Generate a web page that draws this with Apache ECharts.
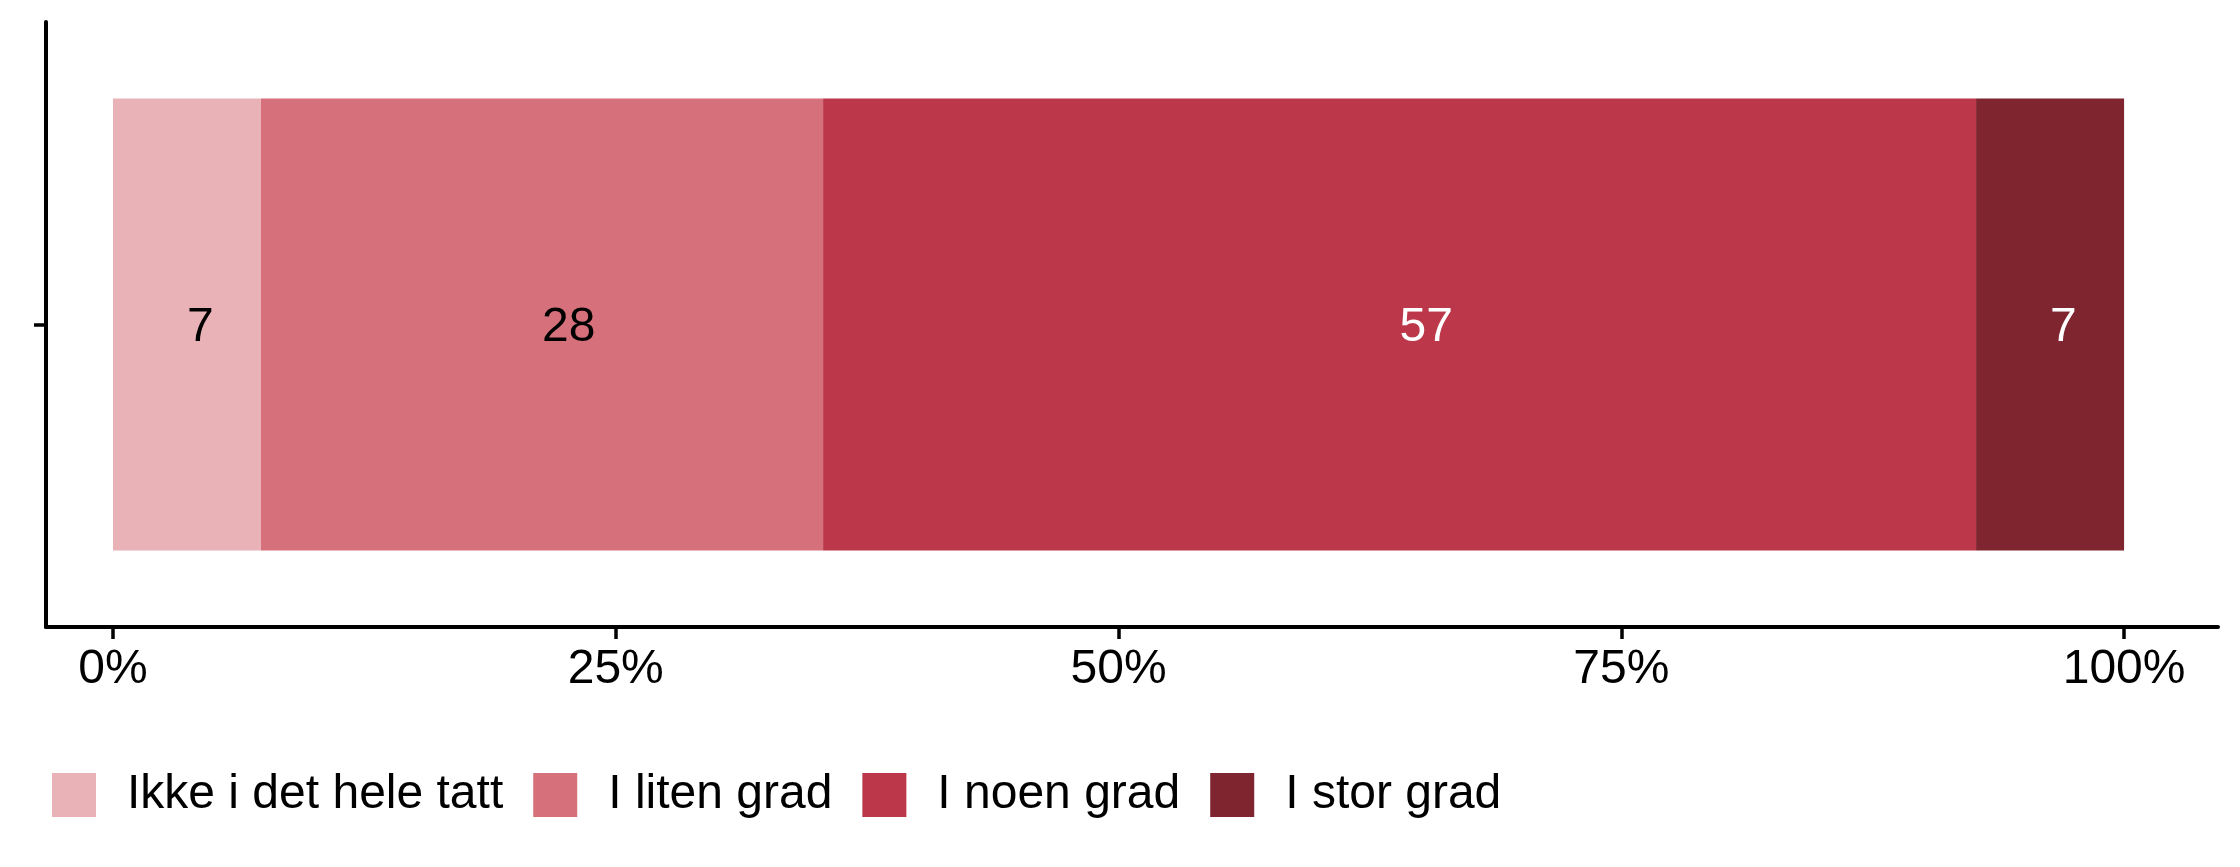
<!DOCTYPE html>
<html>
<head>
<meta charset="utf-8">
<script src="https://cdn.jsdelivr.net/npm/echarts@6/dist/echarts.min.js"></script>
<style>
html,body{margin:0;padding:0;background:#fff;}
#chart{width:2240px;height:867px;}
</style>
</head>
<body>
<div id="chart"></div>
<script>
const categories = [''];
const seriesNames = ['Ikke i det hele tatt', 'I liten grad', 'I noen grad', 'I stor grad'];
const seriesValues = [7.36, 27.95, 57.33, 7.36];
const seriesLabels = ['7', '28', '57', '7'];
const tickValues = [0, 25, 50, 75, 100];
const colors = ['#E8B2B7', '#D6717C', '#BB3749', '#7E2530'];
const labelColors = ['#000000', '#000000', '#ffffff', '#ffffff'];

const FONT = '"Liberation Sans", Arial, sans-serif';
const chart = echarts.init(document.getElementById('chart'), null, {renderer: 'canvas'});

const series = seriesNames.map((name, i) => ({
  name: name,
  type: 'bar',
  stack: 'total',
  barWidth: 452,
  data: [seriesValues[i]],
  itemStyle: {color: colors[i]},
  label: {
    show: true,
    position: 'inside',
    align: 'left',
    verticalAlign: 'middle',
    offset: [0, 3],
    formatter: () => seriesLabels[i],
    color: labelColors[i],
    fontSize: 48,
    fontFamily: FONT,
    textBorderWidth: 0
  },
  emphasis: {disabled: true},
  animation: false
}));

chart.setOption({
  backgroundColor: '#ffffff',
  animation: false,
  color: colors,
  grid: {left: 46, right: 22, top: 22, bottom: 240, containLabel: false},
  xAxis: {
    type: 'value',
    min: -3.33,
    max: 104.67,
    axisLine: {show: true, onZero: false, lineStyle: {color: '#000', width: 4}},
    axisTick: {show: true, length: 12, customValues: tickValues, lineStyle: {color: '#000', width: 3.5}},
    axisLabel: {
      show: true,
      customValues: tickValues,
      formatter: v => v + '%',
      fontSize: 48,
      fontFamily: FONT,
      color: '#000',
      margin: 19
    },
    splitLine: {show: false}
  },
  yAxis: {
    type: 'category',
    data: categories,
    axisLine: {show: true, onZero: false, lineStyle: {color: '#000', width: 4}},
    axisTick: {show: true, length: 12, alignWithLabel: true, lineStyle: {color: '#000', width: 3.5}},
    axisLabel: {show: false},
    splitLine: {show: false}
  },
  legend: {
    show: true,
    left: 52,
    top: 771,
    padding: 0,
    icon: 'rect',
    itemWidth: 44,
    itemHeight: 44,
    itemGap: 30,
    selectedMode: false,
    data: seriesNames,
    textStyle: {fontSize: 48, fontFamily: FONT, color: '#000', padding: [0, 0, 0, 26]}
  },
  series: series
});
</script>
</body>
</html>
